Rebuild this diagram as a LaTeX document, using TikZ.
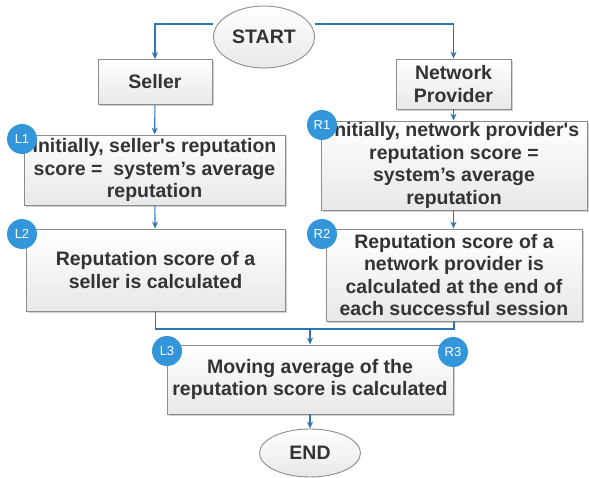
\documentclass[tikz,border=0pt]{standalone}
\usepackage{fontspec}
\setmainfont{Liberation Sans}[Ligatures=TeXOff]
\usepackage{tikz}
\usetikzlibrary{shapes.geometric, shadows, arrows.meta}
\definecolor{flowblue}{RGB}{46,117,182}
\definecolor{tagblue}{RGB}{52,150,218}
\definecolor{boxline}{RGB}{140,140,140}
\definecolor{boxtext}{RGB}{51,51,51}

\tikzset{
	stepbox/.style={draw=boxline, line width=0.9pt, rectangle, top color=white, bottom color=black!9,
		drop shadow={shadow xshift=2pt, shadow yshift=-2pt, fill=black!18, opacity=1},
		align=center, inner sep=1pt, text=boxtext, font=\fontsize{19.5}{22.5}\selectfont\bfseries},
	terminal/.style={draw=boxline, line width=0.9pt, ellipse, top color=white, bottom color=black!9,
		inner sep=0pt, text=boxtext, font=\fontsize{19.5}{22.5}\selectfont\bfseries},
	tag/.style={circle, fill=tagblue, text=white, minimum size=30pt, inner sep=0pt,
		font=\fontsize{13}{13}\selectfont},
	flow/.style={draw=flowblue, line width=1.1pt},
	flowarrow/.style={flow, -{Stealth[length=7pt, width=6pt]}}
}

\begin{document}
\begin{tikzpicture}[x=1pt, y=-1pt]
		\useasboundingbox (0,0) rectangle (589,478);
		
		% Terminals
		\node[terminal, minimum width=101pt, minimum height=62pt] (start) at (264,37) {START};
		\node[terminal, minimum width=101pt, minimum height=48pt] (end) at (310,453) {END};
		
		% Left branch
		\node[stepbox, minimum width=114pt, minimum height=45pt] (seller) at (155,82) {Seller};
		\node[stepbox, minimum width=261pt, minimum height=70pt] (left1) at (154.5,170)
			{Initially, seller's reputation\\score =\ \ system’s average\\reputation};
		\node[stepbox, minimum width=259pt, minimum height=82pt] (left2) at (155.5,270)
			{Reputation score of a\\seller is calculated};
		
		% Right branch
		\node[stepbox, minimum width=115pt, minimum height=50pt] (provider) at (453.5,84) {Network\\Provider};
		\node[stepbox, minimum width=266pt, minimum height=89pt] (right1) at (454,165.5)
			{Initially, network provider's\\reputation score =\\system’s average\\reputation};
		\node[stepbox, minimum width=256pt, minimum height=92pt] (right2) at (454,275)
			{Reputation score of a\\network provider is\\calculated at the end of\\each successful session};
		
		% Common part
		\node[stepbox, minimum width=286pt, minimum height=69pt] (common) at (310,379.5)
			{Moving average of the\\reputation score is calculated};
		\coordinate (merge) at (310,329);
		
		% Tags
		\node[tag] (tagL1) at (22,139) {L1};
		\node[tag] (tagL2) at (22,234) {L2};
		\node[tag] (tagL3) at (167,351) {L3};
		\node[tag] (tagR1) at (322,125) {R1};
		\node[tag] (tagR2) at (322,234) {R2};
		\node[tag] (tagR3) at (453,352) {R3};
		
		% Connections
		\draw[flowarrow] (start.west |- 0,24) -| (seller.north);
		\draw[flowarrow] (start.east |- 0,24) -| (provider.north);
		\draw[flowarrow] (seller) -- (left1);
		\draw[flowarrow] (left1) -- (left2);
		\draw[flowarrow] (provider) -- (provider |- right1.north);
		\draw[flowarrow] (provider |- right1.south) -- (provider |- right2.north);
		\draw[flow] (left2.south) |- (merge);
		\draw[flow] (right2.south) |- (merge);
		\draw[flowarrow] (merge) -- (common);
		\draw[flowarrow] (common) -- (end);
	\end{tikzpicture}
\end{document}
